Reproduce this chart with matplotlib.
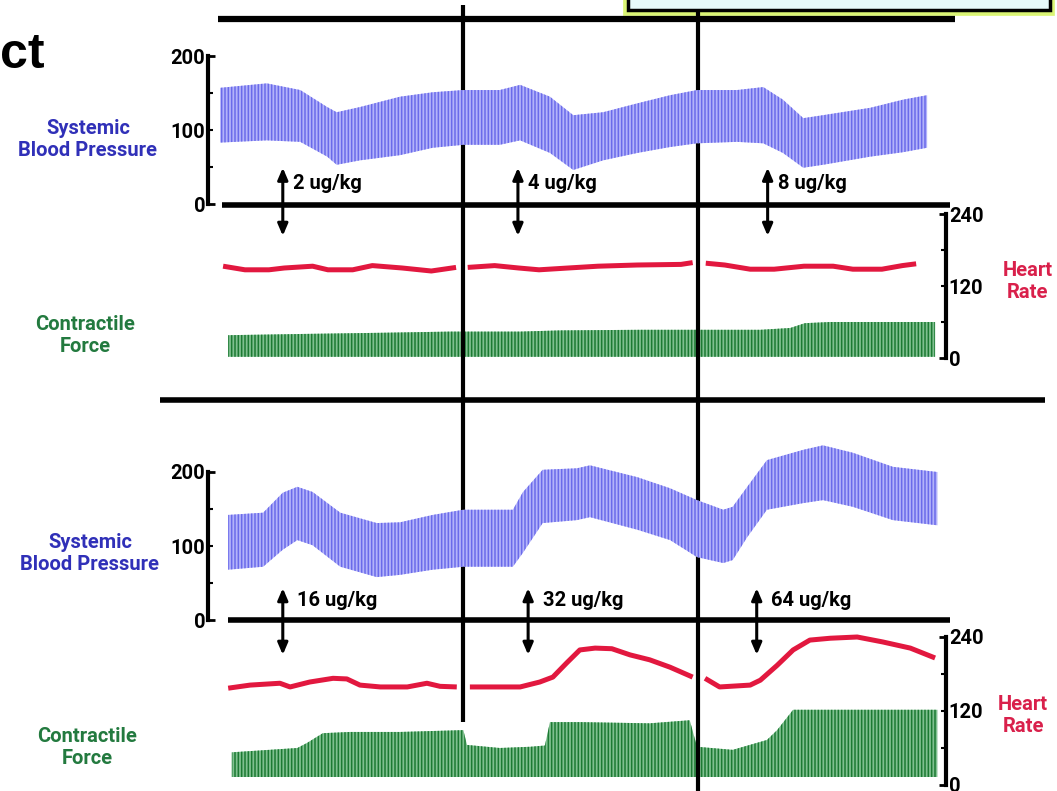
import matplotlib
matplotlib.use('Agg')
import matplotlib.pyplot as plt
from matplotlib.ticker import FixedLocator, FixedFormatter, NullLocator
from matplotlib.patches import Rectangle
from matplotlib import transforms

W, H, DPI = 1057, 791, 100

# ---------------- data (time in arbitrary units 0-100) ----------------
# Upper panel: 2, 4, 8 ug/kg
top_bp_t = [0.3, 6.7, 11.3, 15.0, 16.3, 19.5, 25.0, 29.5, 33.7, 38.7, 41.5, 45.6, 48.8,
            52.9, 57.6, 62.1, 65.8, 71.3, 74.9, 77.6, 80.4, 83.1, 89.6, 94.1, 97.4]
top_bp_sys = [157, 163, 154, 131, 124, 131, 145, 151, 154, 154, 161, 145, 120,
              124, 136, 147, 154, 154, 158, 141, 116, 120, 130, 141, 147]
top_bp_dia = [83, 86, 84, 64, 53, 59, 66, 76, 80, 80, 86, 69, 46,
              59, 69, 77, 82, 84, 82, 69, 49, 53, 64, 70, 76]

top_hr_t = [[0.7, 3.7, 7.0, 9.1, 13.0, 15.1, 18.5, 21.2, 25.3, 29.3, 32.7],
            [34.3, 38.0, 41.3, 44.1, 48.1, 52.2, 57.6, 63.6, 65.2],
            [67.0, 69.6, 73.1, 76.4, 80.5, 84.5, 87.2, 91.2, 94.0, 95.9]]
top_hr = [[153, 147, 147, 150, 153, 147, 147, 154, 150, 145, 151],
          [151, 154, 150, 147, 150, 153, 155, 156, 159],
          [158, 155, 148, 148, 153, 153, 148, 148, 154, 157]]

top_cf_t = [1.4, 11.3, 22.3, 31.9, 41.5, 47.0, 58.0, 65.9, 74.5, 78.6, 80.6, 84.1, 98.5]
top_cf = [38, 40, 42, 44, 44, 46, 47, 47, 47, 50, 58, 60, 60]
top_cf_base = 2

# Lower panel: 16, 32, 64 ug/kg
bot_bp_t = [1.4, 6.2, 8.9, 10.9, 13.0, 16.8, 21.8, 25.0, 29.5, 33.7, 40.5, 41.9, 44.6, 49.3,
            51.1, 57.6, 62.1, 65.8, 69.4, 70.7, 72.7, 75.4, 80.4, 83.1, 87.2, 92.7, 98.8]
bot_bp_sys = [142, 145, 172, 180, 173, 145, 131, 132, 142, 149, 149, 173, 203, 205,
              209, 193, 178, 162, 149, 153, 180, 216, 230, 236, 226, 207, 200]
bot_bp_dia = [68, 72, 95, 108, 101, 72, 58, 61, 68, 72, 72, 91, 131, 135,
              139, 122, 108, 85, 77, 81, 112, 149, 158, 162, 153, 135, 128]

bot_hr_t = [[1.4, 4.4, 8.5, 9.9, 12.6, 15.8, 17.7, 19.5, 22.3, 26.0, 28.7, 30.5, 32.8],
            [34.6, 41.5, 44.2, 46.0, 47.9, 49.7, 51.8, 54.1, 56.6, 59.3, 62.1, 65.2],
            [66.9, 68.9, 73.1, 74.5, 76.8, 79.0, 81.3, 84.1, 87.8, 91.3, 95.1, 98.5]]
bot_hr = [[157, 162, 165, 159, 167, 173, 172, 162, 159, 159, 165, 160, 159],
          [159, 159, 167, 175, 198, 219, 222, 221, 211, 203, 191, 175],
          [173, 159, 162, 170, 194, 219, 235, 238, 240, 232, 222, 206]]

bot_cf_t = [1.9, 10.9, 12.2, 14.4, 18.1, 25.0, 33.7, 34.2, 38.7, 42.9, 44.9, 45.6,
            49.7, 59.3, 64.8, 65.8, 70.7, 75.4, 76.8, 79.0, 98.8]
bot_cf = [53, 60, 68, 84, 86, 86, 89, 65, 60, 62, 64, 102,
          102, 100, 105, 62, 57, 73, 89, 122, 122]
bot_cf_base = 13

phase_t = [33.7, 65.9]
top_doses = ['2 ug/kg', '4 ug/kg', '8 ug/kg']
top_dose_t = [8.9, 41.2, 75.5]
bot_doses = ['16 ug/kg', '32 ug/kg', '64 ug/kg']
bot_dose_t = [8.9, 42.6, 74.0]

bp_major = [0, 200]
bp_minor = [50, 100, 150]
bp_minor_labels = ['', '100', '']
hr_major = [0, 240]
hr_minor = [60, 120, 180]
hr_minor_labels = ['', '120', '']

# ---------------- styling ----------------
plt.rcParams['font.family'] = ['Roboto', 'DejaVu Sans']
plt.rcParams['font.weight'] = 'bold'
plt.rcParams['hatch.linewidth'] = 1.1

BP_FACE, BP_HATCH = '#b3b3fa', '#6a6aea'
CF_FACE, CF_HATCH = '#80c090', '#1c7a33'
HR_COL = '#e2183f'
BLUE_TXT, GREEN_TXT, RED_TXT = '#3030b8', '#237a3f', '#d9204b'
TICK_FS = 14.5
LAB_FS = 14.5

fig = plt.figure(figsize=(W / DPI, H / DPI), dpi=DPI)
fig.patch.set_facecolor('white')

ov = fig.add_axes([0, 0, 1, 1], zorder=1)
ov.set_xlim(0, W)
ov.set_ylim(H, 0)
ov.axis('off')


def px_axes(left, right, top, bottom, z):
    ax = fig.add_axes([left / W, 1 - bottom / H, (right - left) / W, (bottom - top) / H], zorder=z)
    ax.patch.set_visible(False)
    ax.set_xlim(0, 100)
    ax.xaxis.set_major_locator(NullLocator())
    return ax


def style_bp(ax):
    for s in ['top', 'right', 'bottom']:
        ax.spines[s].set_visible(False)
    sp = ax.spines['left']
    sp.set_position(('outward', 7.2))
    sp.set_bounds(0, 200)
    sp.set_linewidth(3)
    ax.yaxis.set_major_locator(FixedLocator(bp_major))
    ax.yaxis.set_minor_locator(FixedLocator(bp_minor))
    ax.yaxis.set_minor_formatter(FixedFormatter(bp_minor_labels))
    ax.tick_params(axis='y', which='major', direction='in', length=5, width=2, labelsize=TICK_FS, pad=2)
    ax.tick_params(axis='y', which='minor', direction='in', length=3.5, width=1.5, labelsize=TICK_FS, pad=2)


def style_hr(ax):
    for s in ['top', 'left', 'bottom']:
        ax.spines[s].set_visible(False)
    sp = ax.spines['right']
    sp.set_bounds(0, 240)
    sp.set_linewidth(3)
    ax.set_ylim(0, 240)
    ax.yaxis.tick_right()
    ax.yaxis.set_major_locator(FixedLocator(hr_major))
    ax.yaxis.set_minor_locator(FixedLocator(hr_minor))
    ax.yaxis.set_minor_formatter(FixedFormatter(hr_minor_labels))
    for which, ln, wd in [('major', 5, 2), ('minor', 3.5, 1.5)]:
        ax.tick_params(axis='y', which=which, direction='in', length=ln, width=wd, labelsize=TICK_FS,
                       pad=2, left=False, right=True, labelleft=False, labelright=True)


def draw_panel(ax_bp, ax_hr, bp_t, sys_, dia, hr_t, hr, cf_t, cf, cf_base,
               doses, dose_t, arrow_lo, arrow_hi, lab_y, lab_dx):
    ax_bp.fill_between(bp_t, dia, sys_, facecolor=BP_FACE, edgecolor=BP_HATCH,
                       hatch='|||||', linewidth=0)
    ax_hr.fill_between(cf_t, [cf_base] * len(cf_t), cf, facecolor=CF_FACE, edgecolor=CF_HATCH,
                       hatch='|||||', linewidth=0)
    for tt, vv in zip(hr_t, hr):
        ax_hr.plot(tt, vv, color=HR_COL, lw=3.6, solid_capstyle='butt', clip_on=False)
    for name, t in zip(doses, dose_t):
        ax_bp.annotate('', xy=(t, arrow_hi), xytext=(t, arrow_lo), annotation_clip=False,
                       arrowprops=dict(arrowstyle='<|-|>,head_length=0.7,head_width=0.3',
                                       lw=2.2, color='black', shrinkA=0, shrinkB=0))
        ax_bp.text(t + lab_dx, lab_y, name, fontsize=LAB_FS, va='center', ha='left', clip_on=False)


ax_bp1 = px_axes(218, 946, 40, 204, 2)
ax_bp1.set_ylim(0, (204 - 40) / 0.74)
style_bp(ax_bp1)
ax_hr1 = px_axes(218, 946, 214, 358, 0)
style_hr(ax_hr1)

ax_bp2 = px_axes(218, 946, 436, 620, 2)
ax_bp2.set_ylim(0, (620 - 436) / 0.74)
style_bp(ax_bp2)
ax_hr2 = px_axes(218, 946, 637, 785, 0)
style_hr(ax_hr2)

draw_panel(ax_bp1, ax_hr1, top_bp_t, top_bp_sys, top_bp_dia, top_hr_t, top_hr,
           top_cf_t, top_cf, top_cf_base, top_doses, top_dose_t, -43, 49, 28, 1.4)
draw_panel(ax_bp2, ax_hr2, bot_bp_t, bot_bp_sys, bot_bp_dia, bot_hr_t, bot_hr,
           bot_cf_t, bot_cf, bot_cf_base, bot_doses, bot_dose_t, -47, 43, 27, 2.0)

# ---------------- structural lines (overlay, pixel coordinates) ----------------
ov.plot([218, 955], [19, 19], color='black', lw=4.5, solid_capstyle='butt')
ov.plot([222, 950], [205, 205], color='black', lw=4, solid_capstyle='butt')
ov.plot([160, 1045], [400, 400], color='black', lw=4, solid_capstyle='butt')
ov.plot([228, 950], [620, 620], color='black', lw=4, solid_capstyle='butt')

tr = transforms.blended_transform_factory(ax_bp1.transData, ov.transData)
phase_extent = [(5, 722), (10, 791)]
for t, (y0, y1) in zip(phase_t, phase_extent):
    ov.plot([t, t], [y0, y1], color='black', lw=3, solid_capstyle='butt', transform=tr)

# top highlighted box (cut off slide element)
ov.add_patch(Rectangle((628, -8), 422, 19, facecolor='none', edgecolor='#cdf23a',
                       lw=7, alpha=0.7, zorder=1))
ov.add_patch(Rectangle((628, -8), 422, 18, facecolor='#e6fafa', edgecolor='black',
                       lw=2.5, zorder=2))

# texts
ov.text(0, 68, 'ct', fontsize=36, fontweight='bold', family=['Liberation Sans', 'DejaVu Sans'],
        ha='left', va='baseline', color='black')
side_labels = [
    (88, 140, 'Systemic\nBlood Pressure', BLUE_TXT),
    (90, 553, 'Systemic\nBlood Pressure', BLUE_TXT),
    (85, 336, 'Contractile\nForce', GREEN_TXT),
    (87, 748, 'Contractile\nForce', GREEN_TXT),
    (1028, 281, 'Heart\nRate', RED_TXT),
    (1023, 715, 'Heart\nRate', RED_TXT),
]
for x, y, s, c in side_labels:
    ov.text(x, y, s, color=c, fontsize=LAB_FS, ha='center', va='center', linespacing=1.2)

fig.savefig('out.png', dpi=DPI, facecolor='white')
